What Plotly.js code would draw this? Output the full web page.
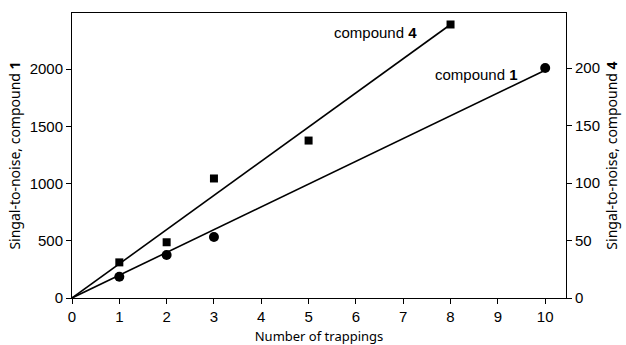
<!DOCTYPE html>
<html>
<head>
<meta charset="utf-8">
<script src="https://cdn.plot.ly/plotly-3.0.1.min.js"></script>
<style>html,body{margin:0;padding:0;background:#fff;}#chart{width:626px;height:345px;}</style>
</head>
<body>
<div id="chart"></div>
<script>
// Compound 1 (left axis, circles)
const c1X = [1, 2, 3, 10];
const c1Y = [185, 375, 533, 2010];
const c1FitX = [0, 10];
const c1FitY = [0, 1990];
// Compound 4 (right axis, squares)
const c4X = [1, 2, 3, 5, 8];
const c4Y = [31, 48.5, 104, 137, 238];
const c4FitX = [0, 8];
const c4FitY = [0, 238];

const xTicks = [0,1,2,3,4,5,6,7,8,9,10];
const yLeftTicks = [0, 500, 1000, 1500, 2000];
const yRightTicks = [0, 50, 100, 150, 200];

const tickFont = {family: 'Liberation Sans', size: 15, color: '#000'};
const titleFont = {family: 'Noto Sans', size: 13, color: '#000'};
const yTitleFont = {family: 'Noto Sans', size: 14, color: '#000'};
const annFont = {family: 'Liberation Sans', size: 15, color: '#000'};

const traces = [
  {x: c1FitX, y: c1FitY, mode: 'lines', line: {color: '#000', width: 1.6}, yaxis: 'y', hoverinfo: 'skip'},
  {x: c4FitX, y: c4FitY, mode: 'lines', line: {color: '#000', width: 1.6}, yaxis: 'y2', hoverinfo: 'skip'},
  {x: c1X, y: c1Y, mode: 'markers', marker: {symbol: 'circle', size: 10, color: '#000'}, yaxis: 'y'},
  {x: c4X, y: c4Y, mode: 'markers', marker: {symbol: 'square', size: 8, color: '#000'}, yaxis: 'y2'}
];

const layout = {
  width: 626, height: 345,
  margin: {l: 72, r: 60, t: 13, b: 47},
  paper_bgcolor: '#fff', plot_bgcolor: '#fff',
  showlegend: false,
  xaxis: {
    range: [0, 10.44], tickvals: xTicks, ticktext: xTicks.map(String),
    showgrid: false, zeroline: false, showline: true, linecolor: '#000', linewidth: 1,
    mirror: true, ticks: 'outside', ticklen: 5, tickcolor: '#000', tickfont: tickFont,
    title: {text: 'Number of trappings', font: titleFont, standoff: 8}
  },
  yaxis: {
    range: [0, 2490], tickvals: yLeftTicks, ticktext: yLeftTicks.map(String),
    showgrid: false, zeroline: false, showline: true, linecolor: '#000', linewidth: 1,
    ticks: 'outside', ticklen: 5, tickcolor: '#000', tickfont: tickFont,
    title: {text: 'Singal-to-noise, compound <b>1</b>', font: yTitleFont, standoff: 5}
  },
  yaxis2: {
    range: [0, 248], tickvals: yRightTicks, ticktext: yRightTicks.map(String),
    overlaying: 'y', side: 'right',
    showgrid: false, zeroline: false, showline: true, linecolor: '#000', linewidth: 1,
    ticks: 'outside', ticklen: 5, tickcolor: '#000', tickfont: tickFont,
    title: {text: 'Singal-to-noise, compound <b>4</b>', font: yTitleFont, standoff: 8}
  },
  annotations: [
    {x: 6.42, y: 231, xref: 'x', yref: 'y2', text: 'compound <b>4</b>', showarrow: false, font: annFont},
    {x: 8.55, y: 1956, xref: 'x', yref: 'y', text: 'compound <b>1</b>', showarrow: false, font: annFont}
  ]
};

Plotly.newPlot('chart', traces, layout, {displayModeBar: false, staticPlot: true});
</script>
</body>
</html>
